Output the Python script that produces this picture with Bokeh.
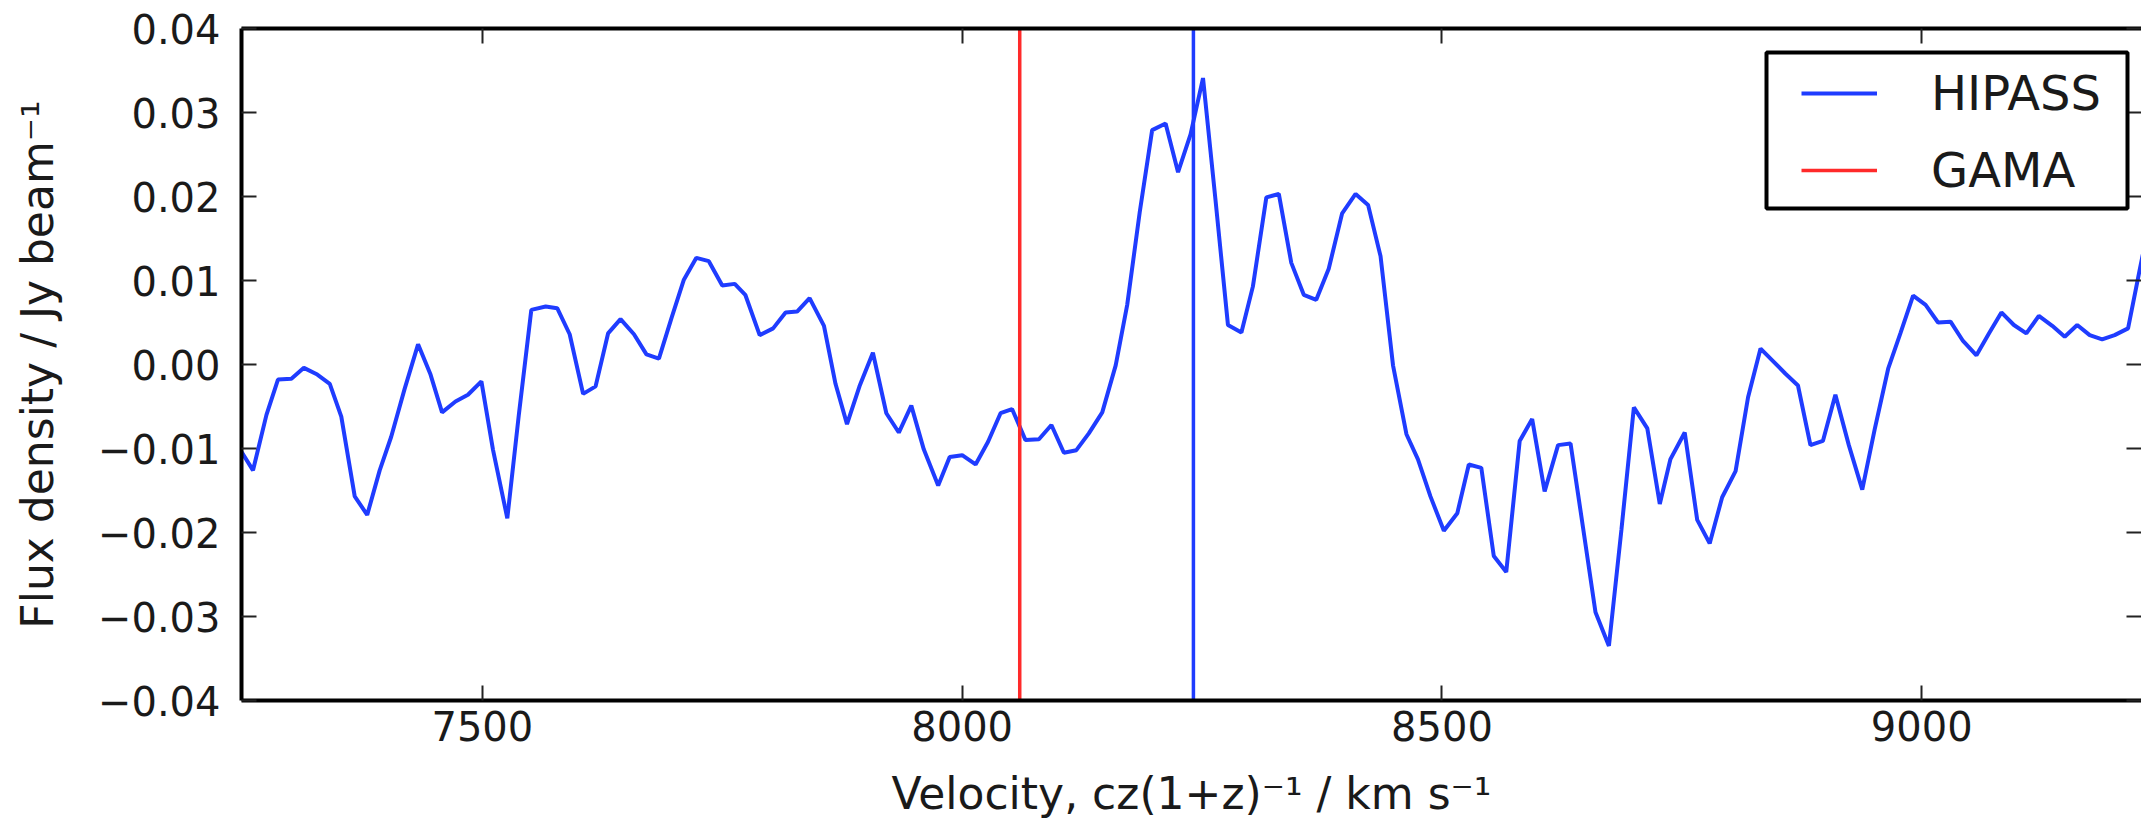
from bokeh.plotting import figure
from bokeh.models import (LinearAxis, FixedTicker, Range1d, Legend, LegendItem,
                          BoxAnnotation)
from bokeh.embed import file_html
from bokeh.resources import INLINE

# ---------------- data ----------------
velocity = [7249, 7261, 7275, 7287, 7301, 7314, 7328, 7341, 7353, 7367,
            7380, 7393, 7405, 7419, 7433, 7446, 7458, 7472, 7485, 7499,
            7511, 7526, 7538, 7551, 7566, 7578, 7591, 7605, 7618, 7631,
            7644, 7658, 7671, 7684, 7697, 7710, 7723, 7736, 7750, 7763,
            7774, 7789, 7803, 7816, 7828, 7841, 7856, 7868, 7880, 7893,
            7907, 7921, 7934, 7947, 7960, 7975, 7987, 8000, 8014, 8027,
            8040, 8052, 8066, 8080, 8093, 8106, 8119, 8132, 8146, 8160,
            8172, 8185, 8198, 8212, 8225, 8238, 8251, 8264, 8277, 8291,
            8303, 8317, 8330, 8343, 8356, 8369, 8382, 8396, 8410, 8423,
            8436, 8449, 8463, 8475, 8488, 8502, 8516, 8528, 8541, 8554,
            8567, 8581, 8594, 8607, 8621, 8634, 8647, 8660, 8674, 8687,
            8700, 8714, 8727, 8738, 8753, 8766, 8779, 8792, 8806, 8819,
            8832, 8845, 8858, 8871, 8884, 8897, 8910, 8924, 8938, 8951,
            8965, 8978, 8991, 9004, 9017, 9030, 9043, 9057, 9070, 9083,
            9096, 9109, 9122, 9136, 9149, 9162, 9175, 9188, 9201, 9215,
            9227, 9240]

flux = [-0.0104, -0.0126, -0.0060, -0.0018, -0.0017, -0.0004, -0.0012, -0.0023, -0.0062, -0.0157,
        -0.0179, -0.0126, -0.0086, -0.0029, 0.0024, -0.0012, -0.0057, -0.0044, -0.0036, -0.0020,
        -0.0101, -0.0183, -0.0060, 0.0065, 0.0069, 0.0067, 0.0036, -0.0035, -0.0026, 0.0037,
        0.0054, 0.0036, 0.0012, 0.0007, 0.0055, 0.0101, 0.0127, 0.0123, 0.0094, 0.0096,
        0.0083, 0.0035, 0.0043, 0.0062, 0.0063, 0.0079, 0.0046, -0.0023, -0.0071, -0.0026,
        0.0014, -0.0058, -0.0081, -0.0049, -0.0101, -0.0144, -0.0110, -0.0108, -0.0119, -0.0092,
        -0.0058, -0.0053, -0.0090, -0.0089, -0.0072, -0.0105, -0.0102, -0.0082, -0.0057, -0.0001,
        0.0071, 0.0181, 0.0279, 0.0287, 0.0229, 0.0274, 0.0341, 0.0196, 0.0047, 0.0038,
        0.0093, 0.0199, 0.0203, 0.0121, 0.0083, 0.0077, 0.0114, 0.0180, 0.0203, 0.0190,
        0.0129, -0.0001, -0.0083, -0.0113, -0.0157, -0.0198, -0.0177, -0.0119, -0.0123, -0.0228,
        -0.0247, -0.0091, -0.0065, -0.0151, -0.0096, -0.0094, -0.0194, -0.0295, -0.0335, -0.0197,
        -0.0051, -0.0076, -0.0166, -0.0113, -0.0081, -0.0185, -0.0213, -0.0158, -0.0127, -0.0039,
        0.0019, 0.0004, -0.0011, -0.0025, -0.0096, -0.0091, -0.0036, -0.0096, -0.0149, -0.0077,
        -0.0005, 0.0038, 0.0082, 0.0071, 0.0050, 0.0051, 0.0028, 0.0011, 0.0037, 0.0062,
        0.0047, 0.0037, 0.0058, 0.0046, 0.0033, 0.0047, 0.0035, 0.0030, 0.0035, 0.0043,
        0.0112, 0.0185]

hipass_velocity = 8241
gama_velocity = 8060

x_limits = [7249, 9229]
y_limits = [-0.04, 0.04]
x_ticks = [7500, 8000, 8500, 9000]
y_ticks = [-0.04, -0.03, -0.02, -0.01, 0.0, 0.01, 0.02, 0.03, 0.04]
y_tick_labels = ["\u22120.04", "\u22120.03", "\u22120.02", "\u22120.01", "0.00",
                 "0.01", "0.02", "0.03", "0.04"]
series_labels = ["HIPASS", "GAMA"]
x_label = "Velocity, cz(1+z)\u207b\u00b9 / km s\u207b\u00b9"
y_label = "Flux density / Jy beam\u207b\u00b9"

BLUE = "#1f3cff"
RED = "#ff2a2a"
FONT = "DejaVu Sans"
TXT = "#1a1a1a"

p = figure(width=2141, height=829, output_backend="svg", toolbar_location=None,
           x_range=Range1d(*x_limits), y_range=Range1d(*y_limits),
           min_border_left=241, min_border_right=0, min_border_top=28,
           min_border_bottom=129, outline_line_color=None,
           background_fill_color="white", border_fill_color="white")
p.xgrid.visible = False
p.ygrid.visible = False

# bottom axis
xa = p.xaxis[0]
xa.ticker = FixedTicker(ticks=x_ticks)
xa.major_tick_in = 15
xa.major_tick_out = 0
xa.minor_tick_line_color = None
xa.axis_line_width = 4
xa.axis_line_color = "black"
xa.major_tick_line_width = 2
xa.major_tick_line_color = "#222222"
xa.major_label_text_font = FONT
xa.major_label_text_font_size = "40px"
xa.major_label_text_color = TXT
xa.major_label_standoff = 10
xa.axis_label = x_label
xa.axis_label_text_font = FONT
xa.axis_label_text_font_size = "44px"
xa.axis_label_text_font_style = "normal"
xa.axis_label_text_color = TXT
xa.axis_label_standoff = 24

# left axis
ya = p.yaxis[0]
ya.ticker = FixedTicker(ticks=y_ticks)
ya.major_label_overrides = {t: l for t, l in zip(y_ticks, y_tick_labels)}
ya.major_tick_in = 15
ya.major_tick_out = 0
ya.minor_tick_line_color = None
ya.axis_line_width = 4
ya.axis_line_color = "black"
ya.major_tick_line_width = 2
ya.major_tick_line_color = "#222222"
ya.major_label_text_font = FONT
ya.major_label_text_font_size = "40px"
ya.major_label_text_color = TXT
ya.major_label_standoff = 21
ya.axis_label = y_label
ya.axis_label_text_font = FONT
ya.axis_label_text_font_size = "44px"
ya.axis_label_text_font_style = "normal"
ya.axis_label_text_color = TXT
ya.axis_label_standoff = 32

# top axis (ticks only)
top = LinearAxis(ticker=FixedTicker(ticks=x_ticks), major_tick_in=15, major_tick_out=0,
                 minor_tick_line_color=None, axis_line_width=4, axis_line_color="black",
                 major_tick_line_width=2, major_tick_line_color="#222222",
                 major_label_text_font_size="1px", major_label_text_color=None,
                 major_label_standoff=0)
p.add_layout(top, "above")

# right axis (ticks only, spine falls outside the crop)
right = LinearAxis(ticker=FixedTicker(ticks=y_ticks), major_tick_in=15, major_tick_out=0,
                   minor_tick_line_color=None, axis_line_color=None,
                   major_tick_line_width=2, major_tick_line_color="#222222",
                   major_label_text_font_size="1px", major_label_text_color=None,
                   major_label_standoff=0)
p.add_layout(right, "right")

spec = p.line(velocity, flux, line_color=BLUE, line_width=4)
p.segment(x0=[hipass_velocity], y0=[y_limits[0]], x1=[hipass_velocity], y1=[y_limits[1]],
          line_color=BLUE, line_width=3.5)
gama = p.segment(x0=[gama_velocity], y0=[y_limits[0]], x1=[gama_velocity], y1=[y_limits[1]],
                 line_color=RED, line_width=3.5)

box = BoxAnnotation(left=1766, right=2127, top=52, bottom=208,
                    left_units="canvas", right_units="canvas",
                    top_units="canvas", bottom_units="canvas",
                    fill_color="white", fill_alpha=1.0,
                    line_color="black", line_alpha=1.0, line_width=4)
p.add_layout(box)

legend = Legend(items=[LegendItem(label=series_labels[0], renderers=[spec]),
                       LegendItem(label=series_labels[1], renderers=[gama])],
                location=(1560, 502), padding=0, margin=0,
                border_line_color=None, background_fill_alpha=0,
                label_text_font=FONT, label_text_font_size="48px",
                label_text_color=TXT,
                glyph_width=76, glyph_height=56, label_height=56,
                label_standoff=54, spacing=21)
p.add_layout(legend)

open("out.html", "w").write(file_html(p, INLINE))
